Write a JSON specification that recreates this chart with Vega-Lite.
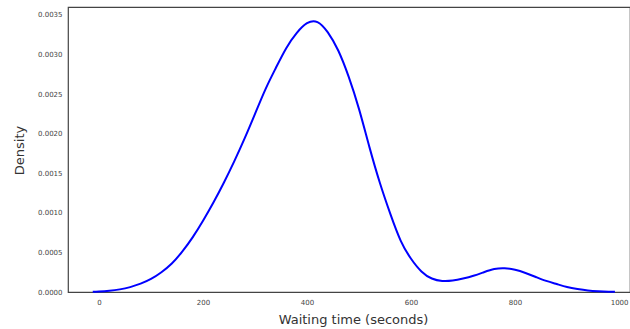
{
  "$schema": "https://vega.github.io/schema/vega-lite/v6.json",
  "width": 562,
  "height": 285,
  "autosize": {"type": "none"},
  "padding": {"left": 68, "top": 7, "right": 0, "bottom": 37},
  "background": "white",
  "config": {
    "view": {"stroke": "#444444", "strokeWidth": 1.2},
    "font": "DejaVu Sans"
  },
  "data": {
    "values": [
      {"x": -12, "y": 0.000004},
      {"x": 0, "y": 0.000007},
      {"x": 20, "y": 0.000016},
      {"x": 40, "y": 0.000033},
      {"x": 60, "y": 0.000062},
      {"x": 80, "y": 0.000105},
      {"x": 100, "y": 0.000165},
      {"x": 120, "y": 0.00025},
      {"x": 140, "y": 0.00036},
      {"x": 160, "y": 0.00051},
      {"x": 180, "y": 0.00069},
      {"x": 200, "y": 0.0009},
      {"x": 220, "y": 0.00113},
      {"x": 240, "y": 0.00138},
      {"x": 260, "y": 0.00165},
      {"x": 280, "y": 0.00194},
      {"x": 300, "y": 0.00225},
      {"x": 320, "y": 0.00256},
      {"x": 340, "y": 0.00283},
      {"x": 360, "y": 0.00308},
      {"x": 380, "y": 0.00327},
      {"x": 400, "y": 0.003395},
      {"x": 420, "y": 0.00341},
      {"x": 440, "y": 0.00328},
      {"x": 460, "y": 0.00305},
      {"x": 480, "y": 0.00272},
      {"x": 500, "y": 0.00231},
      {"x": 520, "y": 0.00183},
      {"x": 540, "y": 0.00138},
      {"x": 560, "y": 0.00099},
      {"x": 580, "y": 0.00065},
      {"x": 600, "y": 0.00042},
      {"x": 620, "y": 0.00026},
      {"x": 640, "y": 0.00017},
      {"x": 660, "y": 0.00014},
      {"x": 680, "y": 0.000145},
      {"x": 700, "y": 0.00017},
      {"x": 720, "y": 0.000205},
      {"x": 740, "y": 0.00025},
      {"x": 760, "y": 0.00029},
      {"x": 780, "y": 0.0003},
      {"x": 800, "y": 0.00028},
      {"x": 820, "y": 0.00024},
      {"x": 840, "y": 0.00019},
      {"x": 860, "y": 0.00014},
      {"x": 880, "y": 0.0001},
      {"x": 900, "y": 0.000063},
      {"x": 920, "y": 0.000038},
      {"x": 940, "y": 0.00002},
      {"x": 960, "y": 0.00001},
      {"x": 980, "y": 0.000004},
      {"x": 992, "y": 0.000002}
    ]
  },
  "mark": {"type": "line", "color": "#0000ff", "strokeWidth": 2, "interpolate": "natural"},
  "encoding": {
    "x": {
      "field": "x",
      "type": "quantitative",
      "scale": {"domain": [-59.6, 1021], "nice": false, "zero": false},
      "axis": {
        "values": [0, 200, 400, 600, 800, 1000],
        "format": "d",
        "title": "Waiting time (seconds)",
        "titleFontSize": 13,
        "titleFontWeight": "normal",
        "titleColor": "#333333",
        "titlePadding": 8,
        "titleX": 285,
        "labelFontSize": 7,
        "labelColor": "#444444",
        "labelPadding": 6,
        "domain": false,
        "ticks": false,
        "grid": false
      }
    },
    "y": {
      "field": "y",
      "type": "quantitative",
      "scale": {"domain": [0, 0.0036], "nice": false},
      "axis": {
        "values": [0, 0.0005, 0.001, 0.0015, 0.002, 0.0025, 0.003, 0.0035],
        "format": ".4f",
        "title": "Density",
        "titleFontSize": 13,
        "titleFontWeight": "normal",
        "titleColor": "#333333",
        "titleX": -49,
        "titleY": 143,
        "titleBaseline": "middle",
        "titleAlign": "center",
        "labelFontSize": 7,
        "labelColor": "#444444",
        "labelPadding": 6,
        "domain": false,
        "ticks": false,
        "grid": false
      }
    }
  }
}
